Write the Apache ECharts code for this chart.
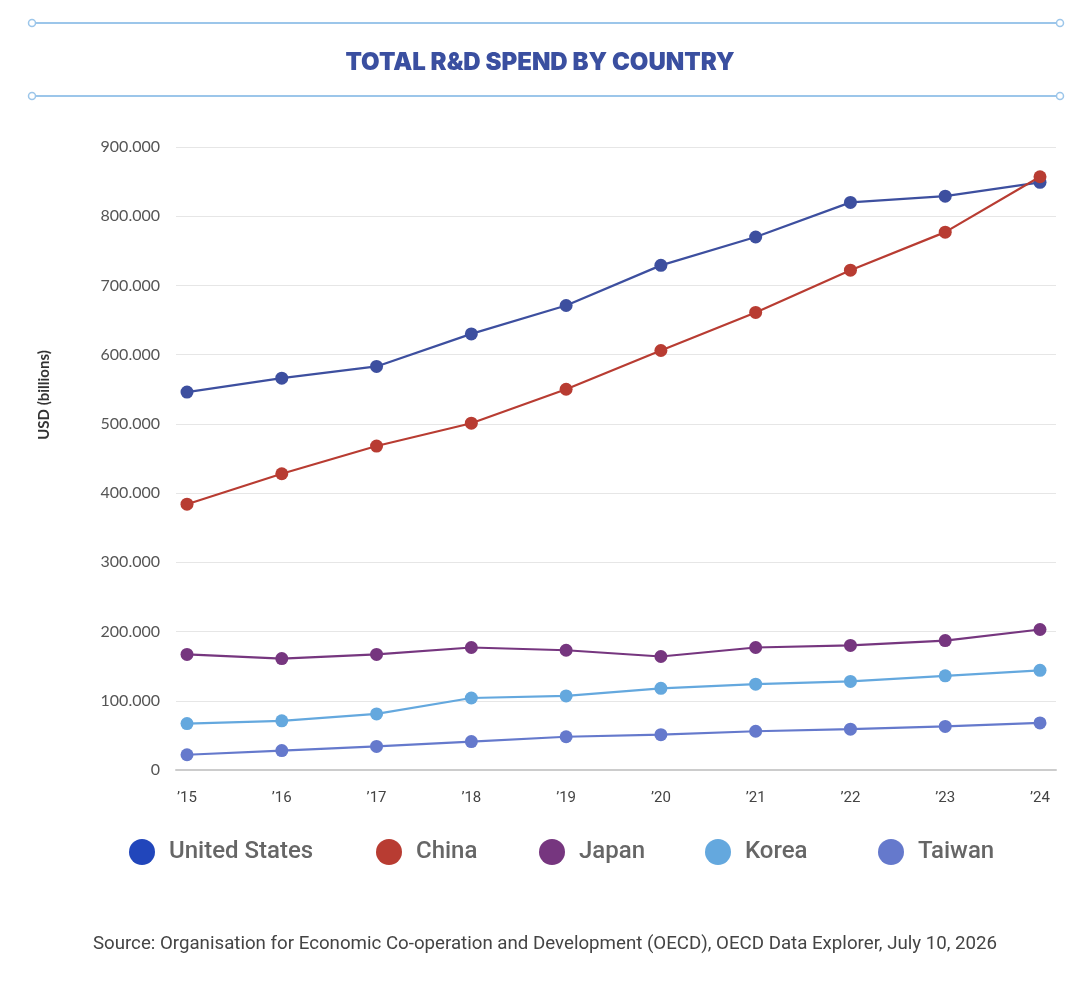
<!DOCTYPE html>
<html>
<head>
  <meta charset="UTF-8">
  <title>Total R&amp;D spend by country</title>
  <script src="https://cdn.jsdelivr.net/npm/echarts@6/dist/echarts.min.js"></script>
  <style>
    html, body { margin: 0; padding: 0; background: #fff; }
    #main { width: 1080px; height: 984px; }
  </style>
</head>
<body>
<div id="main"></div>
<script>
  // years on the x axis
  let years = ['’15', '’16', '’17', '’18', '’19', '’20', '’21', '’22', '’23', '’24'];
  // USD billions
  let unitedStates = [546, 566, 583, 630, 671, 729, 770, 820, 829, 849];
  let china = [384, 428, 468, 501, 550, 606, 661, 722, 777, 857];
  let japan = [167, 161, 167, 177, 173, 164, 177, 180, 187, 203];
  let korea = [67, 71, 81, 104, 107, 118, 124, 128, 136, 144];
  let taiwan = [22, 28, 34, 41, 48, 51, 56, 59, 63, 68];

  let countries = ['United States', 'China', 'Japan', 'Korea', 'Taiwan'];
  let lineColors = ['#3d4f9f', '#b83c32', '#76367f', '#64a8de', '#6579cc'];
  let legendColors = ['#2146bb', '#b83c32', '#76367f', '#64a8de', '#6579cc'];
  let legendLeft = [124, 371, 534, 700, 873];
  let seriesData = [unitedStates, china, japan, korea, taiwan];

  let myChart = echarts.init(document.getElementById('main'), null, {renderer: 'canvas'});

  let deco = '#9cc6ea';
  function rule(y) {
    return [
      {type: 'line', shape: {x1: 36, y1: y, x2: 1056, y2: y}, style: {stroke: deco, lineWidth: 2}},
      {type: 'circle', shape: {cx: 32, cy: y, r: 3.5}, style: {fill: '#fff', stroke: deco, lineWidth: 1.5}},
      {type: 'circle', shape: {cx: 1060, cy: y, r: 3.5}, style: {fill: '#fff', stroke: deco, lineWidth: 1.5}}
    ];
  }

  // y axis title sits a bit above the middle of the plot, so draw it by hand
  let yTitle = {
    type: 'text',
    x: 44,
    y: 395,
    rotation: Math.PI / 2,
    style: {
      text: 'USD (billions)',
      fill: '#333',
      font: 'bold 15px Lato',
      textAlign: 'center',
      textVerticalAlign: 'middle'
    }
  };

  let option = {
    backgroundColor: '#fff',
    animation: false,
    title: [{
      text: 'TOTAL R&D SPEND BY COUNTRY',
      left: 'center',
      top: 46,
      textStyle: {color: '#3a4fa0', fontSize: 24, fontWeight: 900, fontFamily: 'Inter'}
    }, {
      text: 'Source: Organisation for Economic Co-operation and Development (OECD), OECD Data Explorer, July 10, 2026',
      left: 540,
      textAlign: 'center',
      top: 930,
      textStyle: {color: '#444', fontSize: 18.7, fontWeight: 'normal', fontFamily: 'Roboto'}
    }],
    graphic: rule(23).concat(rule(96)).concat([yTitle]),
    legend: countries.map(function (c, i) {
      return {
        data: [{name: c, itemStyle: {color: legendColors[i]}}],
        left: legendLeft[i],
        top: 834,
        icon: 'circle',
        itemWidth: 26,
        itemHeight: 26,
        itemGap: 0,
        textStyle: {color: '#666', fontSize: 24, fontWeight: 500, fontFamily: 'Roboto', padding: [0, 0, 0, 9]},
        selectedMode: false
      };
    }),
    grid: [
      {left: 176, right: 24, top: 147, bottom: 214},
      {left: 187, right: 40, top: 147, bottom: 214}
    ],
    xAxis: [{
      gridIndex: 0,
      type: 'value',
      min: 0,
      max: 1,
      axisLine: {show: true, lineStyle: {color: '#cccccc', width: 2}},
      axisTick: {show: false},
      axisLabel: {show: false},
      splitLine: {show: false}
    }, {
      gridIndex: 1,
      type: 'category',
      data: years,
      boundaryGap: false,
      axisLine: {show: false},
      axisTick: {show: false},
      axisLabel: {color: '#444', fontSize: 15, margin: 21, fontFamily: 'Roboto'},
      splitLine: {show: false}
    }],
    yAxis: [{
      gridIndex: 0,
      type: 'value',
      min: 0,
      max: 900,
      interval: 100,
      axisLine: {show: false},
      axisTick: {show: false},
      axisLabel: {
        color: '#555',
        fontSize: 16,
        margin: 16,
        fontFamily: 'Lato',
        formatter: function (v) { return v === 0 ? '0' : v + '.000'; }
      },
      splitLine: {lineStyle: {color: '#e6e6e6', width: 1}}
    }, {
      gridIndex: 1,
      type: 'value',
      min: 0,
      max: 900,
      interval: 100,
      show: false,
      splitLine: {show: false}
    }],
    series: countries.map(function (c, i) {
      return {
        name: c,
        type: 'line',
        xAxisIndex: 1,
        yAxisIndex: 1,
        data: seriesData[i],
        symbol: 'circle',
        symbolSize: 13,
        showSymbol: true,
        z: 10 - i + (i === 1 ? 2 : 0),
        itemStyle: {color: lineColors[i]},
        lineStyle: {color: lineColors[i], width: 2.2}
      };
    })
  };

  myChart.setOption(option);

  window.addEventListener('resize', function () {
    myChart.resize();
  });
</script>
</body>
</html>
